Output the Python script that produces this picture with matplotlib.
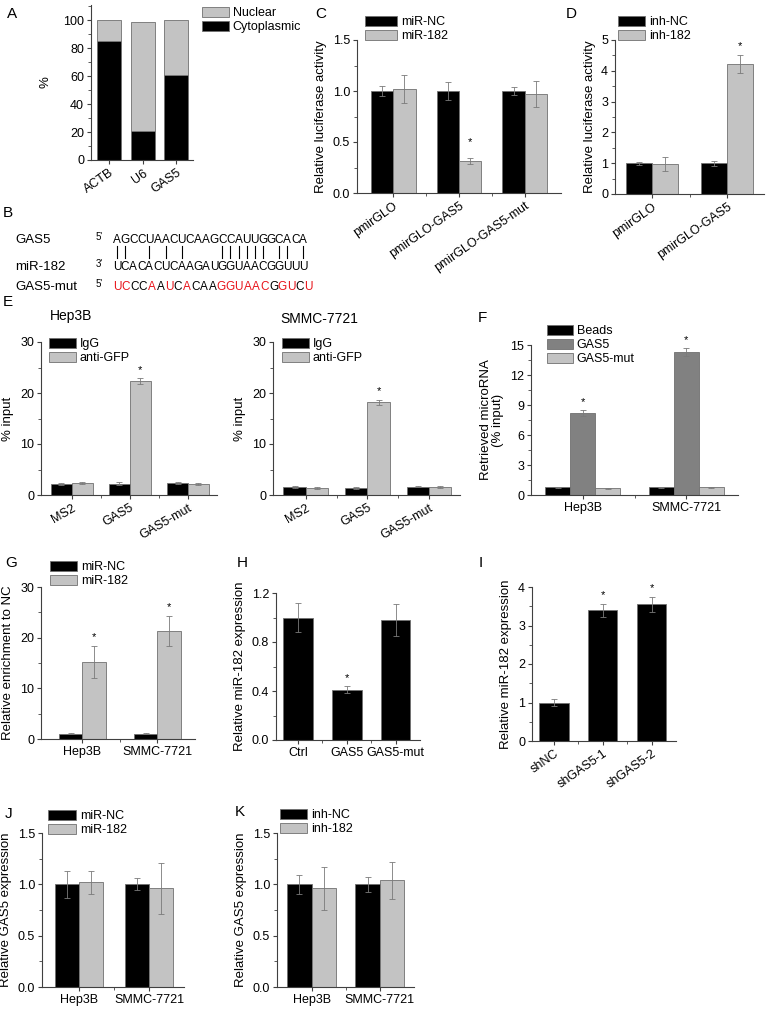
import numpy as np
import matplotlib
matplotlib.use('Agg')
import matplotlib.pyplot as plt
from matplotlib.patches import Patch
from matplotlib.lines import Line2D
from matplotlib.ticker import FormatStrFormatter

plt.rcParams['font.family'] = ['Liberation Sans', 'DejaVu Sans']
plt.rcParams['font.size'] = 9

W, H = 772, 1009

# ---- data ----
# A: subcellular fractions (%)
a_genes = ['ACTB', 'U6', 'GAS5']
a_cyto = [85, 21, 61]
a_nuc = [15, 78, 39]

# B: sequences
seq_gas5 = 'AGCCUAACUCAAGCCAUUGGCACA'
seq_mir = 'UCACACUCAAGAUGGUAACGGUUU'
seq_mut = 'UCCCAAUCACAAGGUAACGGUCU'
mut_red = 'RR..R.R.R...RRRRRR.RR.R'

# C: luciferase with miR-182
c_groups = ['pmirGLO', 'pmirGLO-GAS5', 'pmirGLO-GAS5-mut']
c_nc = [1.0, 1.0, 1.0]
c_nc_err = [0.05, 0.09, 0.04]
c_mir = [1.02, 0.31, 0.97]
c_mir_err = [0.14, 0.03, 0.13]
c_star = [False, True, False]

# D: luciferase with inhibitor
d_groups = ['pmirGLO', 'pmirGLO-GAS5']
d_nc = [1.0, 1.0]
d_nc_err = [0.05, 0.08]
d_inh = [0.98, 4.22]
d_inh_err = [0.22, 0.30]
d_star = [False, True]

# E: RIP
e_groups = ['MS2', 'GAS5', 'GAS5-mut']
e1_igg = [2.2, 2.2, 2.4]
e1_igg_err = [0.2, 0.3, 0.2]
e1_gfp = [2.4, 22.3, 2.2]
e1_gfp_err = [0.2, 0.6, 0.2]
e2_igg = [1.5, 1.4, 1.6]
e2_igg_err = [0.2, 0.2, 0.1]
e2_gfp = [1.4, 18.2, 1.5]
e2_gfp_err = [0.2, 0.5, 0.2]
e_star = [False, True, False]

# F: pull-down
cells = ['Hep3B', 'SMMC-7721']
f_beads = [0.8, 0.8]
f_beads_err = [0.05, 0.05]
f_gas5 = [8.2, 14.3]
f_gas5_err = [0.3, 0.4]
f_mut = [0.7, 0.8]
f_mut_err = [0.05, 0.05]

# G: enrichment
g_nc = [1.0, 1.0]
g_nc_err = [0.1, 0.1]
g_mir = [15.2, 21.3]
g_mir_err = [3.2, 3.0]

# H: miR-182 after GAS5 overexpression
h_groups = ['Ctrl', 'GAS5', 'GAS5-mut']
h_vals = [1.0, 0.41, 0.98]
h_err = [0.12, 0.03, 0.13]
h_star = [False, True, False]

# I: miR-182 after knockdown
i_groups = ['shNC', 'shGAS5-1', 'shGAS5-2']
i_vals = [1.0, 3.4, 3.55]
i_err = [0.1, 0.17, 0.2]
i_star = [False, True, True]

# J, K: GAS5 expression
j_nc = [1.0, 1.0]
j_nc_err = [0.13, 0.06]
j_mir = [1.02, 0.96]
j_mir_err = [0.11, 0.25]
k_nc = [1.0, 1.0]
k_nc_err = [0.09, 0.07]
k_inh = [0.96, 1.04]
k_inh_err = [0.21, 0.18]

BLACK = 'black'
LIGHT = '#c3c3c3'
DARK = '#818181'
EDGE = '#707070'
AXC = '#404040'
ERR = dict(ecolor='#7a7a7a', elinewidth=0.6, capsize=2, capthick=0.6)

fig = plt.figure(figsize=(7.72, 10.09), dpi=100)


def px_ax(l, r, t, b):
    return fig.add_axes([l / W, 1 - b / H, (r - l) / W, (b - t) / H])


def style(ax, ymax, ytop, ystep, yminor, fmt=None):
    for s in ['top', 'right']:
        ax.spines[s].set_visible(False)
    for s in ['left', 'bottom']:
        ax.spines[s].set_linewidth(0.8)
        ax.spines[s].set_color(AXC)
    ax.set_ylim(0, ymax)
    ax.set_yticks(np.arange(0, ytop + 1e-9, ystep))
    ax.set_yticks(np.arange(0, ymax + 1e-9, yminor), minor=True)
    ax.tick_params(direction='out', length=3, width=0.8, color=AXC, labelsize=9, pad=2)
    ax.tick_params(which='minor', direction='out', length=2, width=0.6, color=AXC)
    if fmt:
        ax.yaxis.set_major_formatter(FormatStrFormatter(fmt))


def grouped(ax, names, series, width, xlim, star_off=6):
    x = np.arange(1, len(names) + 1)
    k = len(series)
    for j, (vals, errs, color, stars) in enumerate(series):
        pos = x + (j - (k - 1) / 2) * width
        ax.bar(pos, vals, width, yerr=errs, color=color, edgecolor=EDGE,
               linewidth=0.6, error_kw=ERR)
        if stars is None:
            continue
        for p, v, e, s in zip(pos, vals, errs, stars):
            if s:
                ax.annotate('*', (p, v + e), xytext=(0, star_off),
                            textcoords='offset points', ha='center',
                            va='center', fontsize=8)
    ax.set_xlim(*xlim)
    ax.set_xticks(x)
    ax.set_xticks(np.arange(1.5, len(names)), minor=True)


def legend(ax, labels, colors, x, y, hl_px):
    handles = [Patch(facecolor=c, edgecolor=EDGE, linewidth=0.6) for c in colors]
    ax.legend(handles, labels, loc='upper left',
              bbox_to_anchor=(x / W, 1 - y / H), bbox_transform=fig.transFigure,
              frameon=False, borderpad=0, borderaxespad=0,
              handlelength=hl_px / 12.5, handleheight=0.8, handletextpad=0.3,
              labelspacing=0.15, fontsize=9)


def letter(s, x, y):
    fig.text(x / W, 1 - y / H, s, fontsize=11, ha='left', va='center')


# ---- A ----
ax = px_ax(91, 193, 5, 160)
xa = np.arange(1, 4)
ax.bar(xa, a_cyto, 0.72, color=BLACK, edgecolor=EDGE, linewidth=0.6)
ax.bar(xa, a_nuc, 0.72, bottom=a_cyto, color=LIGHT, edgecolor=EDGE, linewidth=0.6)
style(ax, 111, 100, 20, 10)
ax.set_xlim(0.46, 3.5)
ax.set_xticks(xa)
ax.set_xticklabels(a_genes, rotation=35, ha='right', rotation_mode='anchor')
ax.set_ylabel('%', fontsize=9.5, labelpad=8)
legend(ax, ['Nuclear', 'Cytoplasmic'], [LIGHT, BLACK], 202, 7, 27)
letter('A', 7, 14)

# ---- B ----
letter('B', 3, 213)
rows = [('GAS5', "5'", 240), ('miR-182', "3'", 267), ('GAS5-mut', "5'", 287)]
for name, end, y in rows:
    fig.text(15 / W, 1 - y / H, name, fontsize=9.5, ha='left', va='center')
    fig.text(96 / W, 1 - (y - 3) / H, end, fontsize=7, ha='left', va='center')
pitch = 8.1
for i, ch in enumerate(seq_gas5):
    fig.text((117 + pitch * i) / W, 1 - 240 / H, ch, fontsize=8.5, ha='center', va='center')
for i, ch in enumerate(seq_mir):
    fig.text((117 + pitch * i) / W, 1 - 267 / H, ch, fontsize=8.5, ha='center', va='center')
pairs = {('A', 'U'), ('U', 'A'), ('G', 'C'), ('C', 'G')}
for i, (a, b) in enumerate(zip(seq_gas5, seq_mir)):
    if (a, b) in pairs:
        xx = (117 + pitch * i) / W
        fig.add_artist(Line2D([xx, xx], [1 - 246 / H, 1 - 258 / H], color='black', lw=0.8))
pitch_m = 8.7
for i, (ch, m) in enumerate(zip(seq_mut, mut_red)):
    fig.text((117 + pitch_m * i) / W, 1 - 287 / H, ch, fontsize=8.5, ha='center', va='center',
             color='#e8141b' if m == 'R' else 'black')

# ---- C ----
ax = px_ax(357, 561, 40, 193)
grouped(ax, c_groups, [(c_nc, c_nc_err, BLACK, None), (c_mir, c_mir_err, LIGHT, c_star)],
        0.34, (0.45, 3.55), star_off=12)
style(ax, 1.5, 1.5, 0.5, 0.25, '%.1f')
ax.set_xticklabels(c_groups, rotation=35, ha='right', rotation_mode='anchor')
ax.set_ylabel('Relative luciferase activity', fontsize=9.5)
legend(ax, ['miR-NC', 'miR-182'], [BLACK, LIGHT], 365, 16, 32)
letter('C', 315, 14)

# ---- D ----
ax = px_ax(615, 764, 40, 194)
grouped(ax, d_groups, [(d_nc, d_nc_err, BLACK, None), (d_inh, d_inh_err, LIGHT, d_star)],
        0.35, (0.51, 2.49))
style(ax, 5, 5, 1, 0.5)
ax.set_xticklabels(d_groups, rotation=35, ha='right', rotation_mode='anchor')
ax.set_ylabel('Relative luciferase activity', fontsize=9.5)
legend(ax, ['inh-NC', 'inh-182'], [BLACK, LIGHT], 618, 16, 27)
letter('D', 566, 14)

# ---- E ----
letter('E', 3, 302)
for (l, r, title, tx, ty, igg, igg_e, gfp, gfp_e, lx) in [
        (41, 217, 'Hep3B', 50, 316, e1_igg, e1_igg_err, e1_gfp, e1_gfp_err, 49),
        (273, 460, 'SMMC-7721', 280, 319, e2_igg, e2_igg_err, e2_gfp, e2_gfp_err, 282)]:
    ax = px_ax(l, r, 342, 495)
    grouped(ax, e_groups, [(igg, igg_e, BLACK, None), (gfp, gfp_e, LIGHT, e_star)],
            0.36, (0.47, 3.5))
    style(ax, 30, 30, 10, 5)
    ax.set_xticklabels(e_groups, rotation=30, ha='right', rotation_mode='anchor')
    ax.set_ylabel('% input', fontsize=9.5)
    legend(ax, ['IgG', 'anti-GFP'], [BLACK, LIGHT], lx, 338, 27)
    fig.text(tx / W, 1 - ty / H, title, fontsize=10, ha='left', va='center')

# ---- F ----
ax = px_ax(531, 738, 345, 495)
grouped(ax, cells, [(f_beads, f_beads_err, BLACK, None),
                    (f_gas5, f_gas5_err, DARK, [True, True]),
                    (f_mut, f_mut_err, LIGHT, None)], 0.24, (0.5, 2.5))
style(ax, 15, 15, 3, 1.5)
ax.set_xticklabels(cells)
ax.set_ylabel('Retrieved microRNA\n(% input)', fontsize=9.5, linespacing=1.1)
legend(ax, ['Beads', 'GAS5', 'GAS5-mut'], [BLACK, DARK, LIGHT], 547, 325, 26)
letter('F', 478, 318)

# ---- G ----
ax = px_ax(41, 195, 587, 739)
grouped(ax, cells, [(g_nc, g_nc_err, BLACK, None), (g_mir, g_mir_err, LIGHT, [True, True])],
        0.31, (0.45, 2.5))
style(ax, 30, 30, 10, 5)
ax.set_xticklabels(cells)
ax.set_ylabel('Relative enrichment to NC', fontsize=9.5)
legend(ax, ['miR-NC', 'miR-182'], [BLACK, LIGHT], 50, 561, 27)
letter('G', 5, 563)

# ---- H ----
ax = px_ax(276, 420, 593, 740)
grouped(ax, h_groups, [(h_vals, h_err, BLACK, h_star)], 0.61, (0.55, 3.5))
style(ax, 1.2, 1.2, 0.4, 0.2, '%.1f')
ax.set_xticklabels(h_groups)
ax.set_ylabel('Relative miR-182 expression', fontsize=9.5)
letter('H', 237, 563)

# ---- I ----
ax = px_ax(532, 676, 587, 741)
grouped(ax, i_groups, [(i_vals, i_err, BLACK, i_star)], 0.6, (0.55, 3.5))
style(ax, 4, 4, 1, 0.5)
ax.set_xticklabels(i_groups, rotation=35, ha='right', rotation_mode='anchor')
ax.set_ylabel('Relative miR-182 expression', fontsize=9.5)
letter('I', 479, 563)

# ---- J ----
ax = px_ax(42, 184, 833, 987)
grouped(ax, cells, [(j_nc, j_nc_err, BLACK, None), (j_mir, j_mir_err, LIGHT, None)],
        0.34, (0.47, 2.5))
style(ax, 1.5, 1.5, 0.5, 0.25, '%.1f')
ax.set_xticklabels(cells)
ax.set_ylabel('Relative GAS5 expression', fontsize=9.5)
legend(ax, ['miR-NC', 'miR-182'], [BLACK, LIGHT], 48, 810, 28)
letter('J', 5, 814)

# ---- K ----
ax = px_ax(277, 414, 833, 987)
grouped(ax, cells, [(k_nc, k_nc_err, BLACK, None), (k_inh, k_inh_err, LIGHT, None)],
        0.36, (0.49, 2.5))
style(ax, 1.5, 1.5, 0.5, 0.25, '%.1f')
ax.set_xticklabels(cells)
ax.set_ylabel('Relative GAS5 expression', fontsize=9.5)
legend(ax, ['inh-NC', 'inh-182'], [BLACK, LIGHT], 280, 809, 27)
letter('K', 235, 812)

fig.savefig('out.png', dpi=100)
